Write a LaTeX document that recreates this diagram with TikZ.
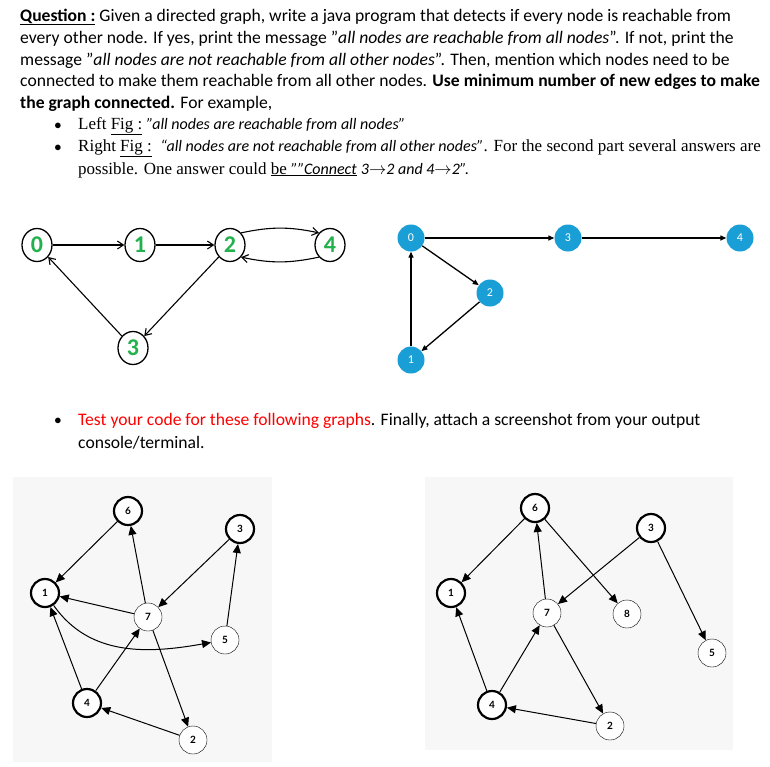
\documentclass[tikz,border=0pt]{standalone}
\usepackage{fontspec}
\setmainfont{Carlito}
\newfontfamily\timesf{Liberation Serif}
\newfontfamily\latof{Lato}
\usetikzlibrary{arrows.meta,shapes.geometric}
\definecolor{blu}{HTML}{1A9ED6}
\definecolor{grn}{HTML}{22B14C}
\definecolor{panel}{HTML}{F7F7F7}
\tikzset{
 txt/.style={anchor=west,inner sep=0pt,font=\fontsize{17.6}{19}\selectfont},
 bul/.style={inner sep=0pt,font=\fontsize{15}{16}\selectfont},
 gnode/.style={draw,line width=1.3pt,ellipse,minimum width=30pt,minimum height=33pt,inner sep=0pt,font=\fontsize{24}{24}\bfseries\color{grn}},
 bnode/.style={circle,fill=blu,minimum size=27pt,inner sep=0pt,text=white,font=\fontsize{12}{12}\selectfont},
 wnode/.style={circle,draw,fill=white,minimum size=28pt,inner sep=0pt,font=\fontsize{10}{10}\latof\bfseries},
 tnode/.style={wnode,line width=2.2pt},
 ga/.style={line width=1.1pt,-{Straight Barb[length=6pt,width=8pt]}},
 ba/.style={line width=1.3pt,-{Triangle[length=6pt,width=5pt]}},
 wa/.style={line width=1pt,-{Triangle[length=9pt,width=8pt]}},
}
\newcommand{\myul}[1]{\underline{#1}}
\begin{document}
\begin{tikzpicture}[x=1pt,y=-1pt]
\useasboundingbox[fill=white] (0,0) rectangle (770,766);
% text
\node[txt] (l1) at (20,17) {\textbf{\myul{Question :}} Given a directed graph, write a java program that detects if every node is reachable from};
\node[txt] (l2) at (20,39) {every other node. If yes, print the message "\textit{all nodes are reachable from all nodes}". If not, print the};
\node[txt] (l3) at (20,61) {message "\textit{all nodes are not reachable from all other nodes}". Then, mention which nodes need to be};
\node[txt] (l4) at (20,82) {connected to make them reachable from all other nodes. \textbf{Use minimum number of new edges to make}};
\node[txt] (l5) at (20,104) {\textbf{the graph connected.} For example,};
\node[bul] (b1) at (58,126) {$\bullet$};
\node[txt,font=\fontsize{17}{19}\timesf] (l6) at (78,126) {Left \myul{Fig :} {\fontsize{16}{19}\selectfont\normalfont\itshape "all nodes are reachable from all nodes"}};
\node[bul] (b2) at (58,148) {$\bullet$};
\node[txt,font=\fontsize{17}{19}\timesf] (l7) at (78,148) {Right \myul{Fig :}\ \ {\normalfont\itshape\fontsize{16}{19}\selectfont “all nodes are not reachable from all other nodes”}. For the second part several answers are};
\node[txt,font=\fontsize{17}{19}\timesf] (l8) at (78,170) {possible. One answer could \myul{be {\normalfont\itshape\fontsize{16}{19}\selectfont ""Connect}} {\normalfont\itshape\fontsize{16}{19}\selectfont 3$\rightarrow$2 and 4$\rightarrow$2”.}};
% top left graph
\node[gnode] (a0) at (37,245) {0};
\node[gnode] (a1) at (140,245) {1};
\node[gnode] (a2) at (230,245) {2};
\node[gnode] (a4) at (330,245) {4};
\node[gnode] (a3) at (133,348) {3};
\draw[ga] (a0) -- (a1);
\draw[ga] (a1) -- (a2);
\draw[ga] (a2.north east) to[bend left=12] (a4.north west);
\draw[ga] (a4.south west) to[bend left=12] (a2.south east);
\draw[ga] (a2) -- (a3);
\draw[ga] (a3) -- (a0);
% top right graph
\node[bnode] (c0) at (411,238) {0};
\node[bnode] (c3) at (568,238) {3};
\node[bnode] (c4) at (740,238) {4};
\node[bnode] (c2) at (490,293) {2};
\node[bnode] (c1) at (411,360) {1};
\draw[ba] (c0) -- (c3);
\draw[ba] (c3) -- (c4);
\draw[ba] (c0) -- (c2);
\draw[ba] (c2) -- (c1);
\draw[ba] (c1) -- (c0);
% third bullet
\node[bul] (b3) at (58,421) {$\bullet$};
\node[txt] (l9) at (78,421) {\textcolor{red}{Test your code for these following graphs}. Finally, attach a screenshot from your output};
\node[txt] (l10) at (78,443) {console/terminal.};
% panels
\fill[panel] (13,477) rectangle (272,762);
\fill[panel] (425,477) rectangle (733,750);
% bottom left graph
\node[tnode] (d6) at (128,511) {6};
\node[tnode] (d3) at (240,529) {3};
\node[tnode] (d1) at (45,593) {1};
\node[wnode] (d7) at (148,617) {7};
\node[wnode] (d5) at (225,640) {5};
\node[tnode] (d4) at (87,703) {4};
\node[wnode] (d2) at (193,740) {2};
\draw[wa] (d6) -- (d1);
\draw[wa] (d7) -- (d6);
\draw[wa] (d3) -- (d7);
\draw[wa] (d7) -- (d1);
\draw[wa] (d1) to[out=-55,in=190] (d5);
\draw[wa] (d5) -- (d3);
\draw[wa] (d4) -- (d1);
\draw[wa] (d4) -- (d7);
\draw[wa] (d7) -- (d2);
\draw[wa] (d2) -- (d4);
% bottom right graph
\node[tnode] (e6) at (535,508) {6};
\node[tnode] (e3) at (651,528) {3};
\node[tnode] (e1) at (451,593) {1};
\node[wnode] (e7) at (547,613) {7};
\node[wnode] (e8) at (627,614) {8};
\node[wnode] (e5) at (712,653) {5};
\node[tnode] (e4) at (492,705) {4};
\node[wnode] (e2) at (610,726) {2};
\draw[wa] (e6) -- (e1);
\draw[wa] (e7) -- (e6);
\draw[wa] (e6) -- (e8);
\draw[wa] (e3) -- (e7);
\draw[wa] (e3) -- (e5);
\draw[wa] (e4) -- (e1);
\draw[wa] (e4) -- (e7);
\draw[wa] (e7) -- (e2);
\draw[wa] (e2) -- (e4);
\end{tikzpicture}
\end{document}
